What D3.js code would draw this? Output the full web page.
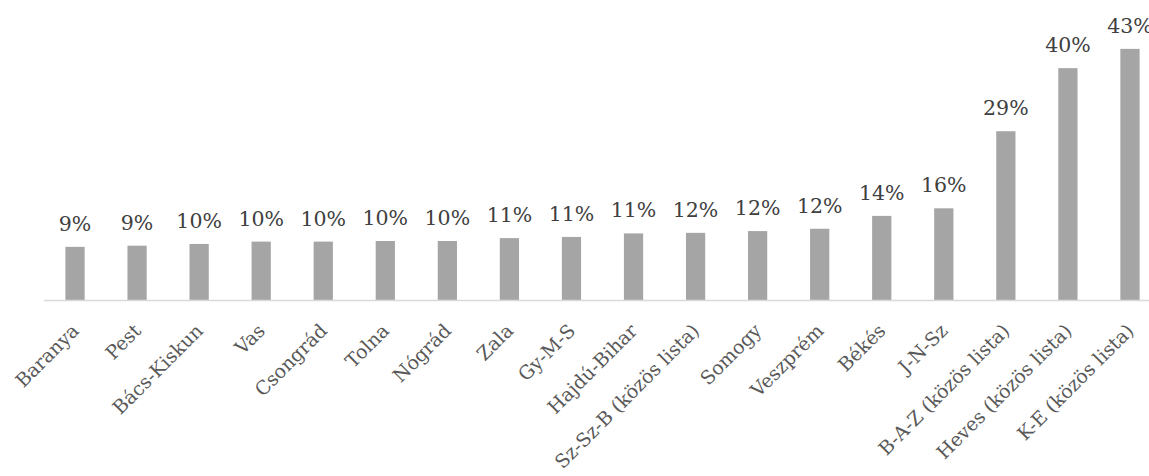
<!DOCTYPE html>
<html><head><meta charset="utf-8">
<script src="https://cdn.jsdelivr.net/npm/d3@7"></script>
<style>html,body{margin:0;padding:0;background:#fff;overflow:hidden}</style>
</head><body>
<svg id="chart" width="1149" height="476"></svg>
<script>
const categories = ["Baranya","Pest","Bács-Kiskun","Vas","Csongrád","Tolna","Nógrád","Zala","Gy-M-S","Hajdú-Bihar","Sz-Sz-B (közös lista)","Somogy","Veszprém","Békés","J-N-Sz","B-A-Z (közös lista)","Heves (közös lista)","K-E (közös lista)"];
const values = [9.1,9.3,9.6,10.0,10.0,10.1,10.1,10.6,10.8,11.4,11.5,11.8,12.2,14.4,15.7,28.9,39.7,43.0];
const valueLabels = ["9%","9%","10%","10%","10%","10%","10%","11%","11%","11%","12%","12%","12%","14%","16%","29%","40%","43%"];

const svg = d3.select("#chart");
const x = d3.scaleBand().domain(categories).range([44, 1161]).paddingInner(0.69).paddingOuter(0.345);
const y = d3.scaleLinear().domain([0, 50]).range([300, 8]);

svg.append("g").selectAll("rect").data(categories).join("rect")
  .attr("x", d => x(d)).attr("width", x.bandwidth())
  .attr("y", (d,i) => y(values[i])).attr("height", (d,i) => y(0) - y(values[i]))
  .attr("fill", "#a5a5a5");

svg.append("line").attr("x1", 44).attr("x2", 1161).attr("y1", y(0)+0.5).attr("y2", y(0)+0.5)
  .attr("stroke", "#d9d9d9").attr("stroke-width", 1.5);

svg.append("g").selectAll("text").data(categories).join("text")
  .attr("x", d => x(d) + x.bandwidth()/2)
  .attr("y", (d,i) => y(values[i]) - 16)
  .attr("text-anchor", "middle")
  .attr("font-family", "DejaVu Serif")
  .attr("font-size", "20.5px")
  .attr("fill", "#404040")
  .text((d,i) => valueLabels[i]);

svg.append("g").selectAll("text").data(categories).join("text")
  .attr("transform", d => `translate(${x(d) + x.bandwidth()/2 + 5},${332}) rotate(-45)`)
  .attr("text-anchor", "end")
  .attr("font-family", "DejaVu Serif")
  .attr("font-size", "19px")
  .attr("fill", "#595959")
  .text(d => d);
</script>
</body></html>
